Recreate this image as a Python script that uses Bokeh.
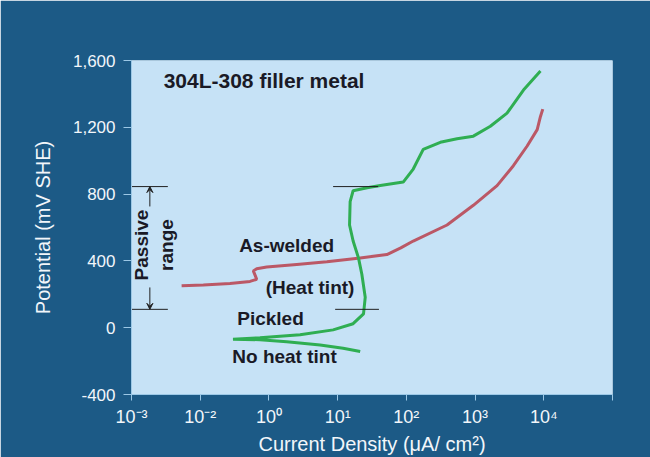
import math
from bokeh.plotting import figure
from bokeh.models import (Range1d, FixedTicker, NumeralTickFormatter, Label,
                          Arrow, VeeHead, ColumnDataSource)
from bokeh.embed import file_html
from bokeh.resources import INLINE

# ---------------- data ----------------
x_ticks = [1e-3, 1e-2, 1e-1, 1e0, 1e1, 1e2, 1e3, 1e4]
x_tick_labels = ["10⁻³", "10⁻²", "10⁰", "10¹", "10²", "10³", "10⁴", ""]
y_ticks = [-400, 0, 400, 800, 1200, 1600]

# As-welded (heat tint) curve: current density (axis units) and potential (mV SHE)
aswelded_i = [0.00536, 0.0111, 0.0271, 0.053, 0.0664, 0.0626, 0.0593, 0.0664,
              0.0929, 0.254, 0.697, 2.13, 5.21, 8.3, 12.6, 39.1, 94.4, 209,
              361, 573, 802, 895, 967]
aswelded_e = [251, 255, 265, 277, 290, 316, 340, 353,
              363, 379, 395, 418, 438, 478, 519, 615, 733, 851,
              970, 1088, 1186, 1265, 1309]

# Pickled (no heat tint) curve
pickled_i = [2.13, 1.20, 0.556, 0.1815, 0.0741, 0.030, 0.0741, 0.284, 0.859,
             1.68, 2.38, 2.52, 2.25, 2.01, 1.68, 1.49, 1.52, 1.68, 2.69, 4.17,
             9.0, 12.6, 17.6, 31.2, 54.7, 94.4, 167, 292, 506, 895]
pickled_e = [-143, -123, -103, -84, -72, -69, -60, -42, -13,
             24, 83, 182, 320, 418, 519, 615, 755, 820, 838, 851,
             872, 950, 1068, 1110, 1131, 1147, 1206, 1285, 1423, 1537]

passive_top = 845
passive_bottom = 110

# ---------------- styles ----------------
FONT = "Liberation Sans"
DARK_BG = "#1c5a86"
FRAME_BG = "#c6e2f6"
RED = "#bb5866"
GREEN = "#2fae52"
INK = "#1a1a26"
WHITE = "#f2f6fa"
TICK = "#9cc8e6"

p = figure(width=650, height=457, x_axis_type="log",
           x_range=Range1d(1e-3, 1e4), y_range=Range1d(-400, 1600),
           output_backend="svg", toolbar_location=None,
           min_border_left=131, min_border_right=38,
           min_border_top=60, min_border_bottom=59)

p.background_fill_color = FRAME_BG
p.border_fill_color = DARK_BG
p.outline_line_color = None
p.grid.visible = False

# x axis
p.xaxis.ticker = FixedTicker(ticks=x_ticks)
p.xaxis.major_label_overrides = {t: l for t, l in zip(x_ticks, x_tick_labels)}
p.xaxis.major_tick_out = 6
p.xaxis.major_tick_in = 0
p.xaxis.minor_tick_line_color = None
p.xaxis.major_label_standoff = 6
p.xaxis.major_label_text_font = FONT
p.xaxis.major_label_text_font_size = "18px"
p.xaxis.major_label_text_color = WHITE
p.xaxis.axis_label = "Current Density (μA/ cm²)"
p.xaxis.axis_label_standoff = 3

# y axis
p.yaxis.ticker = FixedTicker(ticks=y_ticks)
p.yaxis.formatter = NumeralTickFormatter(format="0,0")
p.yaxis.major_tick_out = 8
p.yaxis.major_tick_in = 0
p.yaxis.minor_tick_line_color = None
p.yaxis.major_label_standoff = 8
p.yaxis.major_label_text_font = FONT
p.yaxis.major_label_text_font_size = "17px"
p.yaxis.major_label_text_color = WHITE
p.yaxis.axis_label = "Potential (mV SHE)"
p.yaxis.axis_label_standoff = 16

for ax in (p.xaxis, p.yaxis):
    ax.axis_line_color = TICK
    ax.major_tick_line_color = TICK
    ax.axis_label_text_font = FONT
    ax.axis_label_text_font_size = "20px"
    ax.axis_label_text_font_style = "normal"
    ax.axis_label_text_color = WHITE

# curves
p.line(aswelded_i, aswelded_e, line_color=RED, line_width=3)
p.line(pickled_i, pickled_e, line_color=GREEN, line_width=3)

# passive range markers
seg = ColumnDataSource(dict(
    x0=[1e-3, 1e-3, 0.859, 0.92],
    x1=[0.00338, 0.00338, 3.89, 3.99],
    y=[passive_top, passive_bottom, passive_top, passive_bottom]))
p.segment(x0="x0", y0="y", x1="x1", y1="y", source=seg,
          line_color="#202020", line_width=1)

arrow_x = 0.00185
p.add_layout(Arrow(x_start=arrow_x, y_start=726, x_end=arrow_x, y_end=passive_top,
                   line_color="#202020", line_width=1,
                   end=VeeHead(size=6, line_color="#202020", fill_color="#202020")))
p.add_layout(Arrow(x_start=arrow_x, y_start=241, x_end=arrow_x, y_end=passive_bottom,
                   line_color="#202020", line_width=1,
                   end=VeeHead(size=6, line_color="#202020", fill_color="#202020")))

def ann(text, x, y, size="19px", angle=0.0, color=INK, bold=True,
        align="center", baseline="middle"):
    p.add_layout(Label(x=x, y=y, text=text, angle=angle,
                       text_font=FONT, text_font_size=size,
                       text_font_style="bold" if bold else "normal",
                       text_color=color, text_align=align,
                       text_baseline=baseline))

ann("304L-308 filler metal", 0.0849, 1482, size="21px")
ann("As-welded", 0.181, 495)
ann("(Heat tint)", 0.397, 241)
ann("Pickled", 0.1054, 58)
ann("No heat tint", 0.1686, -172)
ann("Passive", 0.00141, 495, angle=math.pi / 2)
ann("range", 0.00327, 495, angle=math.pi / 2)

open("out.html", "w").write(file_html(p, INLINE))
